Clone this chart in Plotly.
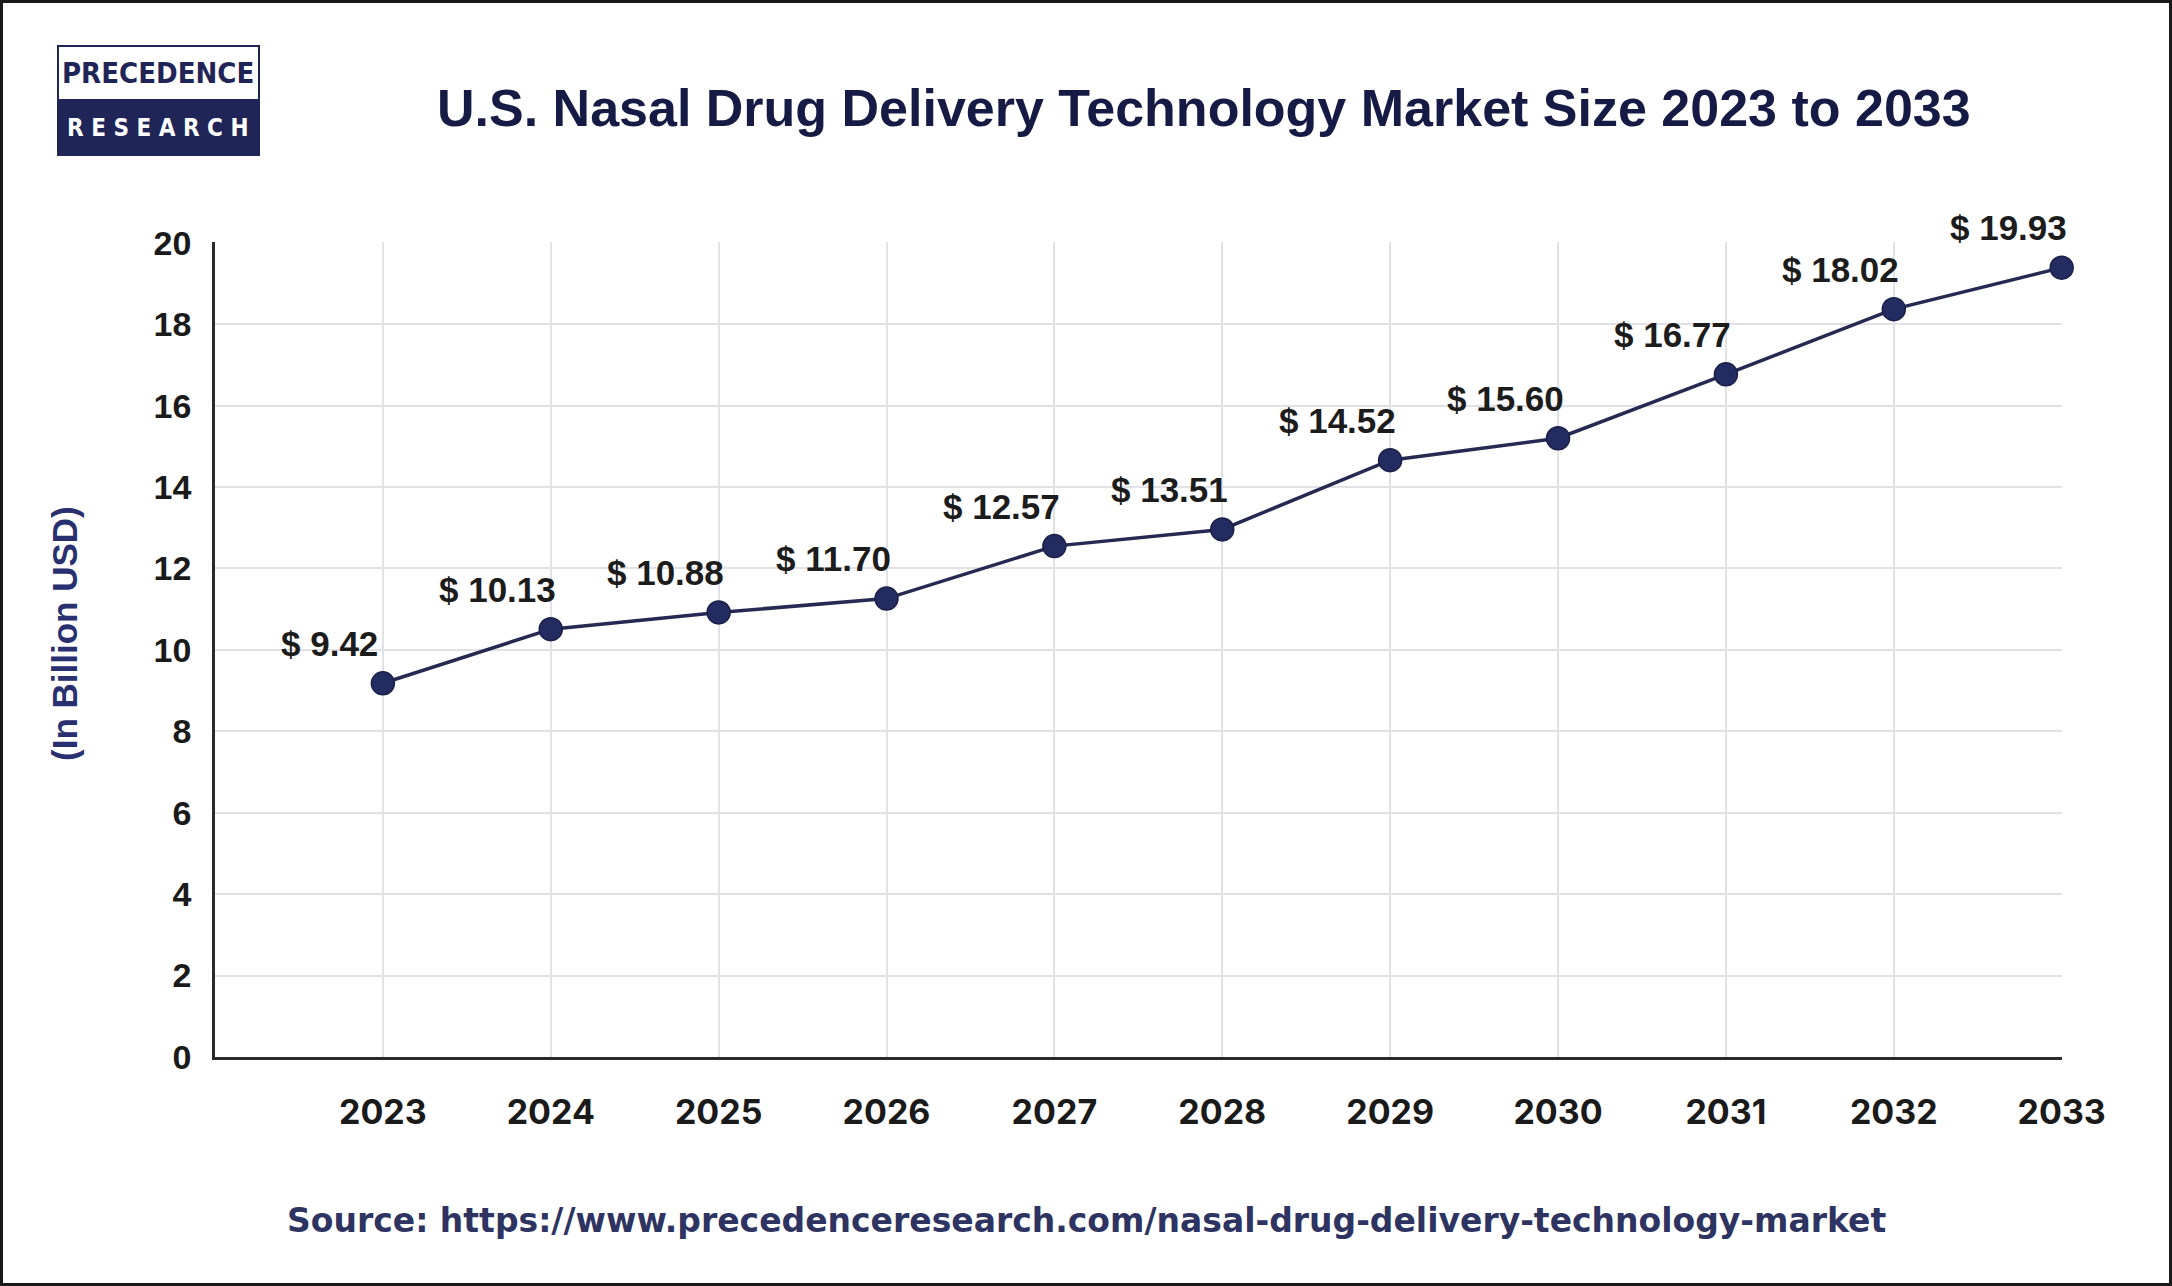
import plotly.graph_objects as go

years = [2023, 2024, 2025, 2026, 2027, 2028, 2029, 2030, 2031, 2032, 2033]
# plotted positions
values = [9.18, 10.51, 10.92, 11.26, 12.55, 12.96, 14.66, 15.20, 16.77, 18.37, 19.39]
# data labels printed on the chart
labels = ["$ 9.42", "$ 10.13", "$ 10.88", "$ 11.70", "$ 12.57", "$ 13.51",
          "$ 14.52", "$ 15.60", "$ 16.77", "$ 18.02", "$ 19.93"]
y_ticks = [0, 2, 4, 6, 8, 10, 12, 14, 16, 18, 20]

title_text = "U.S. Nasal Drug Delivery Technology Market Size 2023 to 2033"
source_text = "Source: https://www.precedenceresearch.com/nasal-drug-delivery-technology-market"

WIDTH, HEIGHT = 2172, 1286
ML, MR, MT, MB = 215, 110, 242, 229
PW = WIDTH - ML - MR
PH = HEIGHT - MT - MB

def px(x):
    return (x - ML) / PW

def py(y):
    return (HEIGHT - MB - y) / PH

NAVY = "#1f2557"
ARIAL = "Liberation Sans, Arial, sans-serif"

fig = go.Figure()
fig.add_trace(go.Scatter(
    x=years, y=values, mode="lines+markers",
    line=dict(color="#262a52", width=3.5),
    marker=dict(size=23, color="#232c60", line=dict(color="#1b2048", width=1.5)),
    cliponaxis=False,
    hoverinfo="skip", showlegend=False,
))

annotations = []
for yr, v, lab in zip(years, values, labels):
    annotations.append(dict(
        x=yr, y=v, xref="x", yref="y", text=lab, showarrow=False,
        xshift=-53, yshift=40,
        font=dict(family=ARIAL, size=35, color="#1c1c1c", weight="bold"),
    ))

# title
annotations.append(dict(
    x=px(1204), y=py(108), xref="paper", yref="paper", text=title_text,
    showarrow=False, xanchor="center", yanchor="middle",
    font=dict(family=ARIAL, size=52, color="#161b45", weight="bold"),
))
# y axis title
annotations.append(dict(
    x=px(64), y=py(634), xref="paper", yref="paper", text="(In Billion USD)",
    showarrow=False, xanchor="center", yanchor="middle", textangle=-90,
    font=dict(family=ARIAL, size=35, color="#283070", weight="bold"),
))
# source
annotations.append(dict(
    x=px(1086), y=py(1220), xref="paper", yref="paper", text=source_text,
    showarrow=False, xanchor="center", yanchor="middle",
    font=dict(family="DejaVu Sans", size=33, color="#2e3461", weight="bold"),
))
# logo text
logo_font = "Liberation Sans Narrow, DejaVu Sans Condensed, Roboto Condensed, sans-serif"
annotations.append(dict(
    x=px(158), y=py(73), xref="paper", yref="paper", text="PRECEDENCE",
    showarrow=False, xanchor="center", yanchor="middle",
    font=dict(family=logo_font, size=29, color=NAVY, weight="bold"),
))
annotations.append(dict(
    x=px(158), y=py(128), xref="paper", yref="paper", text="R E S E A R C H",
    showarrow=False, xanchor="center", yanchor="middle",
    font=dict(family=logo_font, size=24, color="white", weight="bold"),
))

shapes = [
    # outer frame
    dict(type="rect", xref="paper", yref="paper", x0=px(1.5), x1=px(WIDTH - 1.5),
         y0=py(HEIGHT - 1.5), y1=py(1.5), line=dict(color="#1a1a1a", width=3), layer="below"),
    # logo boxes
    dict(type="rect", xref="paper", yref="paper", x0=px(58), x1=px(259),
         y0=py(100), y1=py(46), line=dict(color=NAVY, width=2), fillcolor="white"),
    dict(type="rect", xref="paper", yref="paper", x0=px(58), x1=px(259),
         y0=py(155), y1=py(100), line=dict(color=NAVY, width=2), fillcolor=NAVY),
]

fig.update_layout(
    width=WIDTH, height=HEIGHT,
    margin=dict(l=ML, r=MR, t=MT, b=MB),
    paper_bgcolor="white", plot_bgcolor="white",
    annotations=annotations, shapes=shapes,
    xaxis=dict(
        range=[2022, 2033.002], tickvals=years, ticktext=[str(y) for y in years],
        showgrid=True, gridcolor="#e2e2e6", gridwidth=2,
        showline=True, linecolor="#2a2a2a", linewidth=2.5,
        ticks="", ticklabelstandoff=23, zeroline=False,
        tickfont=dict(family="Inter, DejaVu Sans", size=34, color="#1a1a1a", weight="bold"),
    ),
    yaxis=dict(
        range=[0, 20.02], tickvals=y_ticks,
        showgrid=True, gridcolor="#e2e2e6", gridwidth=2,
        showline=True, linecolor="#2a2a2a", linewidth=2.5,
        ticks="", ticklabelstandoff=14, zeroline=False,
        tickfont=dict(family=ARIAL, size=34, color="#1a1a1a", weight="bold"),
    ),
)

fig.write_html("out.html")
